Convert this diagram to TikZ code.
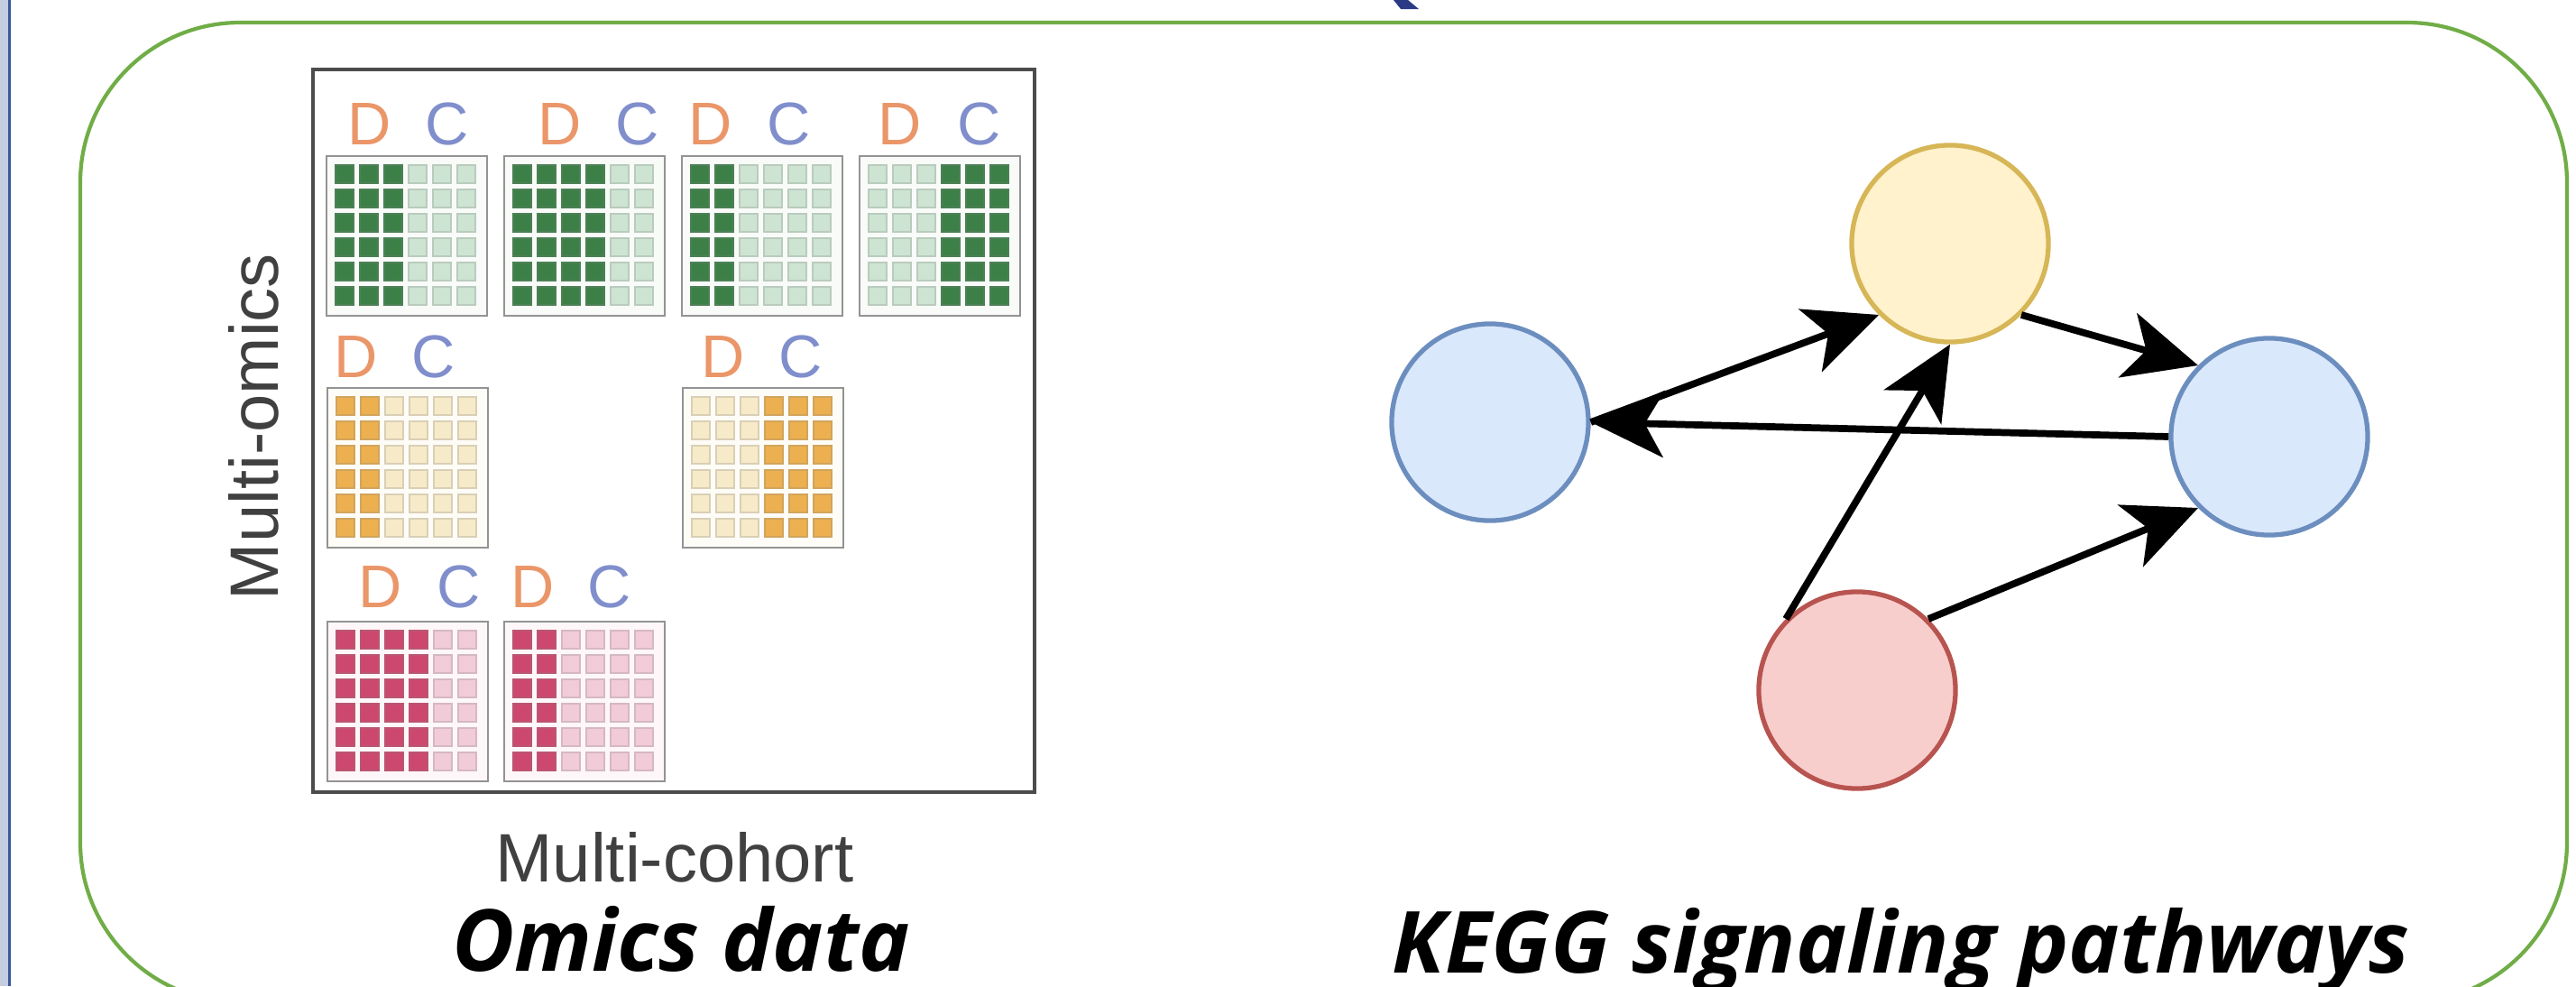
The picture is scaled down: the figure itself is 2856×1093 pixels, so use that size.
\documentclass[tikz,border=0pt]{standalone}
\usepackage{fontspec}
\setsansfont{Liberation Sans}
\newfontfamily\titleFont{Open Sans}
\usepackage{xcolor}
\usepackage{tikz}
\usetikzlibrary{arrows.meta}
\definecolor{frameGreen}{RGB}{112,173,71}
\definecolor{keggBlueFill}{HTML}{DAE8FC}
\definecolor{keggBlueLine}{HTML}{6C8EBF}
\definecolor{keggYellowFill}{HTML}{FFF2CC}
\definecolor{keggYellowLine}{HTML}{D6B656}
\definecolor{keggRedFill}{HTML}{F8CECC}
\definecolor{keggRedLine}{HTML}{B85450}
\definecolor{diseaseOrange}{RGB}{234,150,105}
\definecolor{controlBlue}{RGB}{128,142,204}
\definecolor{greenDark}{RGB}{60,128,72}
\definecolor{greenLight}{RGB}{205,228,210}
\definecolor{orangeDark}{RGB}{236,176,80}
\definecolor{orangeLight}{RGB}{247,234,200}
\definecolor{pinkDark}{RGB}{205,72,110}
\definecolor{pinkLight}{RGB}{242,203,216}
\definecolor{navyMark}{RGB}{42,58,133}
\definecolor{stripGray}{RGB}{197,205,224}
\definecolor{stripBlue}{RGB}{58,90,154}
\newcommand{\omicsGrid}[5]{%
    \filldraw[gridBox, fill=#4!15] (#1,#2) rectangle ++(178,177);
    \foreach \f [count=\c from 0] in {#5} {
        \ifnum\f=1 \def\cellColor{#3}\else\def\cellColor{#4}\fi
        \foreach \r in {0,...,5}
            \filldraw[fill=\cellColor, draw=\cellColor!75!gray, line width=0.4pt]
                ({#1+10+27*\c},{#2+10+27*\r}) rectangle ++(20,20);
    }
}

\begin{document}
\begin{tikzpicture}[
    x=0.01cm, y=-0.01cm,
    keggNode/.style={
        circle,
        minimum size=2.18cm,
        inner sep=0pt,
        line width=1.5pt
    },
    arrow/.style={-{Stealth[length=23pt, width=21pt, inset=6pt]}, line width=2.2pt},
    gridBox/.style={draw=gray!85, line width=0.7pt},
    letterD/.style={text=diseaseOrange, font=\sffamily\fontsize{19}{20}\selectfont, anchor=base, inner sep=0pt},
    letterC/.style={text=controlBlue, font=\sffamily\fontsize{19}{20}\selectfont, anchor=base, inner sep=0pt},
    axisLabel/.style={text=black!75, font=\sffamily\fontsize{21.6}{24}\selectfont, anchor=base, inner sep=0pt},
    panelTitle/.style={font=\titleFont\bfseries\itshape\fontsize{27}{32}\selectfont, anchor=base, inner sep=0pt}
]
    \useasboundingbox (0,0) rectangle (2856,1093);
    \clip (0,0) rectangle (2856,1093);

    \fill[stripGray] (0,0) rectangle (9,1093);
    \draw[stripBlue, line width=1pt] (10.5,0) -- (10.5,1093);
    \fill[navyMark] (1545,0) -- (1561,0) -- (1573,10) -- (1553,10) -- cycle;
    \draw[frameGreen, line width=1.2pt, rounded corners=1.77cm] (89,25) rectangle (2846,1111);

    \draw[black!70, line width=1pt] (347,77) rectangle (1147,878);
    \omicsGrid{362}{173}{greenDark}{greenLight}{1,1,1,0,0,0}
    \omicsGrid{559}{173}{greenDark}{greenLight}{1,1,1,1,0,0}
    \omicsGrid{756}{173}{greenDark}{greenLight}{1,1,0,0,0,0}
    \omicsGrid{953}{173}{greenDark}{greenLight}{0,0,0,1,1,1}
    \omicsGrid{363}{430}{orangeDark}{orangeLight}{1,1,0,0,0,0}
    \omicsGrid{757}{430}{orangeDark}{orangeLight}{0,0,0,1,1,1}
    \omicsGrid{363}{689}{pinkDark}{pinkLight}{1,1,1,1,0,0}
    \omicsGrid{559}{689}{pinkDark}{pinkLight}{1,1,0,0,0,0}

    \foreach \dx/\cx/\by [count=\i] in {410/496/160, 621/707/160, 788/875/160, 998/1086/160,
                                        395/481/418, 802/888/418, 422/509/673, 591/676/673} {
        \node[letterD] (d\i) at (\dx,\by) {D};
        \node[letterC] (c\i) at (\cx,\by) {C};
    }

    \node[axisLabel] (cohort) at (748,977) {Multi-cohort};
    \node[axisLabel, rotate=90] (omics) at (308,473) {Multi-omics};
    \node[panelTitle] (omicsTitle) at (755,1076) {Omics data};

    \node[keggNode, fill=keggBlueFill, draw=keggBlueLine] (left) at (1652,468) {};
    \node[keggNode, fill=keggYellowFill, draw=keggYellowLine] (top) at (2162,270) {};
    \node[keggNode, fill=keggBlueFill, draw=keggBlueLine] (right) at (2516,484) {};
    \node[keggNode, fill=keggRedFill, draw=keggRedLine] (bottom) at (2059,765) {};

    \draw[arrow] (left.east) -- (top.225);
    \draw[arrow] (top.315) -- (right.135);
    \draw[arrow] (right.west) -- (left.east);
    \draw[arrow] (bottom.135) -- (top.south);
    \draw[arrow] (bottom.45) -- (right.225);

    \node[panelTitle] (keggTitle) at (2108,1078) {KEGG signaling pathways};
\end{tikzpicture}
\end{document}
